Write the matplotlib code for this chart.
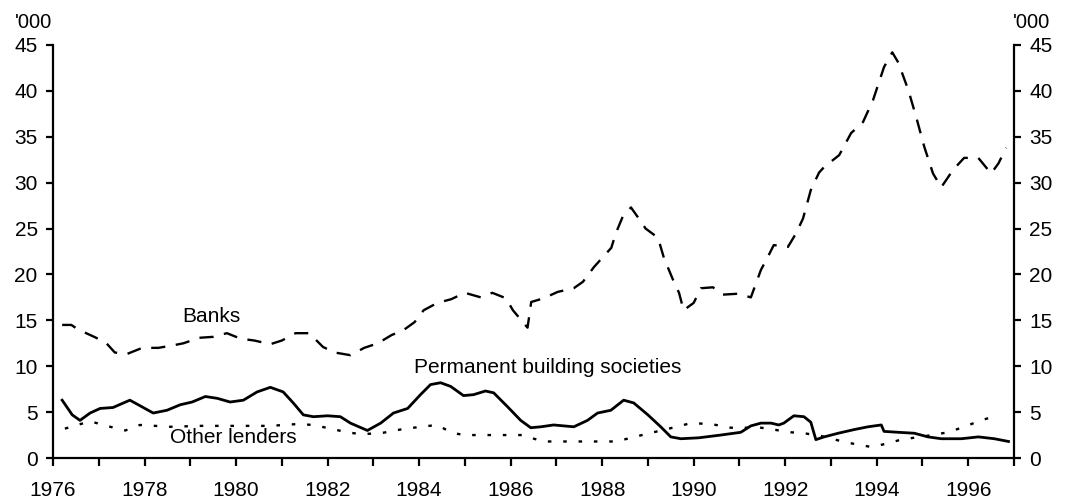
import matplotlib
matplotlib.use("Agg")
import matplotlib.pyplot as plt
from matplotlib.ticker import MultipleLocator

plt.rcParams["font.family"] = ["Liberation Sans", "DejaVu Sans"]

# Housing loan approvals by lender type ('000)
bank_t = [1976.2, 1976.4, 1976.55, 1976.9, 1977.15, 1977.35, 1977.6, 1977.95, 1978.3,
          1978.65, 1978.85, 1979.2, 1979.5, 1979.8, 1980.1, 1980.4, 1980.75, 1981.0,
          1981.3, 1981.6, 1981.9, 1982.15, 1982.5, 1982.8, 1983.1, 1983.4, 1983.65,
          1983.9, 1984.1, 1984.4, 1984.7, 1985.0, 1985.35, 1985.6, 1985.9, 1986.05,
          1986.37, 1986.45, 1986.72, 1987.03, 1987.38, 1987.58, 1987.82, 1988.0,
          1988.2, 1988.3, 1988.45, 1988.63, 1988.8, 1988.95, 1989.22, 1989.35,
          1989.55, 1989.68, 1989.78, 1990.0, 1990.16, 1990.42, 1990.64, 1990.97,
          1991.25, 1991.47, 1991.62, 1991.75, 1992.06, 1992.24, 1992.39, 1992.56,
          1992.74, 1992.85, 1993.18, 1993.44, 1993.7, 1993.92, 1994.16, 1994.34,
          1994.47, 1994.69, 1994.86, 1995.04, 1995.23, 1995.41, 1995.67, 1995.91,
          1996.22, 1996.5, 1996.66, 1996.83]
banks = [14.5, 14.5, 14.0, 13.2, 12.6, 11.5, 11.3, 12.0, 12.0, 12.3, 12.5, 13.1, 13.2,
         13.6, 13.0, 12.8, 12.4, 12.8, 13.6, 13.6, 12.1, 11.5, 11.2, 12.0, 12.5, 13.4,
         13.9, 14.8, 16.1, 16.9, 17.3, 18.0, 17.5, 18.0, 17.4, 16.1, 14.2, 17.0, 17.4,
         18.1, 18.5, 19.2, 20.8, 21.8, 22.9, 24.5, 26.3, 27.3, 26.1, 25.0, 24.0, 21.8,
         19.4, 18.0, 16.1, 16.9, 18.5, 18.6, 17.8, 17.9, 17.5, 20.5, 21.9, 23.2, 23.0,
         24.5, 26.1, 29.2, 31.1, 31.7, 33.0, 35.4, 36.6, 39.0, 42.6, 44.2, 43.1, 40.1,
         37.2, 33.9, 31.0, 29.5, 31.4, 32.7, 32.7, 31.0, 32.1, 33.8]

pbs_t = [1976.2, 1976.42, 1976.59, 1976.81, 1977.03, 1977.31, 1977.68, 1977.9, 1978.19,
         1978.49, 1978.78, 1979.04, 1979.33, 1979.59, 1979.87, 1980.16, 1980.46,
         1980.75, 1981.03, 1981.25, 1981.47, 1981.69, 1982.0, 1982.28, 1982.5,
         1982.87, 1983.16, 1983.44, 1983.75, 1984.03, 1984.25, 1984.47, 1984.69,
         1984.97, 1985.19, 1985.45, 1985.63, 1985.93, 1986.22, 1986.44, 1986.66,
         1986.94, 1987.38, 1987.68, 1987.9, 1988.19, 1988.47, 1988.69, 1989.0,
         1989.28, 1989.5, 1989.72, 1990.11, 1990.59, 1991.03, 1991.25, 1991.47,
         1991.69, 1991.86, 1991.97, 1992.19, 1992.41, 1992.56, 1992.67, 1992.85,
         1993.16, 1993.51, 1993.81, 1994.1, 1994.16, 1994.47, 1994.82, 1995.12,
         1995.41, 1995.85, 1996.22, 1996.57, 1996.88]
pbs = [6.3, 4.7, 4.1, 4.9, 5.4, 5.5, 6.3, 5.7, 4.9, 5.2, 5.8, 6.1, 6.7, 6.5, 6.1, 6.3,
       7.2, 7.7, 7.2, 6.0, 4.7, 4.5, 4.6, 4.5, 3.8, 3.0, 3.8, 4.9, 5.4, 6.9, 8.0, 8.2,
       7.8, 6.8, 6.9, 7.3, 7.1, 5.6, 4.1, 3.3, 3.4, 3.6, 3.4, 4.1, 4.9, 5.2, 6.3, 6.0,
       4.7, 3.4, 2.3, 2.1, 2.2, 2.5, 2.8, 3.5, 3.8, 3.8, 3.6, 3.8, 4.6, 4.5, 3.9, 2.0,
       2.3, 2.7, 3.1, 3.4, 3.6, 2.9, 2.8, 2.7, 2.3, 2.1, 2.1, 2.3, 2.1, 1.8]

other_t = [1976.26, 1976.81, 1977.25, 1977.58, 1977.9, 1978.56, 1979.22, 1980.09,
           1980.75, 1981.34, 1981.69, 1982.06, 1982.43, 1982.72, 1983.16, 1983.59,
           1984.03, 1984.4, 1984.69, 1984.97, 1986.28, 1986.44, 1986.72, 1988.34,
           1988.47, 1988.95, 1989.46, 1989.94, 1990.38, 1990.81, 1991.47, 1992.13,
           1992.41, 1992.78, 1993.33, 1993.88, 1994.25, 1994.53, 1995.08, 1995.56,
           1995.91, 1996.28, 1996.61]
other = [3.2, 4.0, 3.4, 3.0, 3.6, 3.4, 3.5, 3.5, 3.5, 3.7, 3.6, 3.2, 2.8, 2.6, 2.7, 3.1,
         3.4, 3.6, 2.8, 2.5, 2.5, 2.2, 1.8, 1.8, 2.0, 2.6, 3.2, 3.8, 3.7, 3.3, 3.3, 2.8,
         2.7, 2.4, 1.7, 1.2, 1.6, 2.0, 2.4, 2.8, 3.4, 4.1, 4.6]

year_labels = list(range(1976, 1998, 2))
y_ticks = list(range(0, 50, 5))

fig = plt.figure(figsize=(10.71, 5.0), dpi=100)
ax = fig.add_axes([53 / 1071, 42 / 500, 961 / 1071, 413 / 500])

ax.plot(bank_t, banks, color="black", lw=1.7, linestyle=(0, (6, 4.5)))
ax.plot(pbs_t, pbs, color="black", lw=2.0, solid_joinstyle="round")
ax.plot(other_t, other, color="black", lw=1.7, linestyle=(0, (1.5, 5)))

ax.set_xlim(1976, 1997)
ax.set_ylim(0, 45)
ax.set_yticks(y_ticks)
ax.set_xticks(year_labels)
ax.set_xticklabels([str(y) for y in year_labels])
ax.xaxis.set_minor_locator(MultipleLocator(1))

for side in ("left", "right", "bottom"):
    ax.spines[side].set_linewidth(1.6)
ax.spines["top"].set_visible(False)

ax.yaxis.set_ticks_position("both")
ax.tick_params(axis="y", which="both", direction="out", length=5, width=1.6,
               labelsize=15, pad=6, labelleft=True, labelright=True)
ax.tick_params(axis="x", which="both", direction="out", length=5.5, width=1.6,
               labelsize=15, pad=11)

ax.text(1979.46, 15.4, "Banks", fontsize=15, ha="center", va="center")
ax.text(1986.81, 9.9, "Permanent building societies", fontsize=15,
        ha="center", va="center")
ax.text(1979.94, 2.2, "Other lenders", fontsize=15, ha="center", va="center")

fig.text(15 / 1071, 1 - 22 / 500, "'000", fontsize=14.5, ha="left", va="center")
fig.text(1013 / 1071, 1 - 22 / 500, "'000", fontsize=14.5, ha="left", va="center")

fig.savefig("out.png", dpi=100)
